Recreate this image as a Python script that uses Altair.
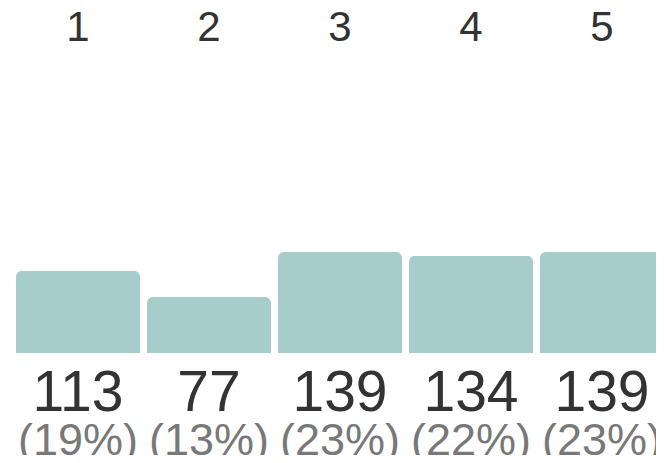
import altair as alt
import pandas as pd

categories = ["1", "2", "3", "4", "5"]
counts = [113, 77, 139, 134, 139]
percents = ["(19%)", "(13%)", "(23%)", "(22%)", "(23%)"]

df = pd.DataFrame({"cat": categories, "count": counts, "pct": percents})

x = alt.X(
    "cat:N",
    sort=categories,
    axis=None,
    scale=alt.Scale(range=[8, 656], paddingInner=0.0534, paddingOuter=0),
)
base = alt.Chart(df).encode(x=x)

bars = base.mark_bar(
    color="#a7cdca", cornerRadiusTopLeft=6, cornerRadiusTopRight=6
).encode(
    y=alt.Y("count:Q", axis=None, scale=alt.Scale(domain=[0, 475], nice=False, zero=True))
)

top_labels = base.mark_text(
    font="Liberation Sans", fontSize=42, color="#333333", baseline="alphabetic"
).encode(y=alt.value(33), text="cat:N")

vals = base.mark_text(
    font="Liberation Sans", fontSize=57, color="#333333", baseline="alphabetic", dy=58
).encode(y=alt.value(345), text="count:Q")

pcts = base.mark_text(
    font="Liberation Sans", fontSize=45, color="#787878", baseline="alphabetic", dy=102
).encode(y=alt.value(345), text="pct:N")

chart = alt.layer(bars, top_labels, vals, pcts).properties(
    width=648,
    height=345,
    autosize=alt.AutoSizeParams(type="none"),
    padding={"left": 0, "top": 0, "right": 0, "bottom": 102},
).configure_view(stroke=None)

chart.save("out.html", embed_options={"renderer": "svg", "actions": False})
